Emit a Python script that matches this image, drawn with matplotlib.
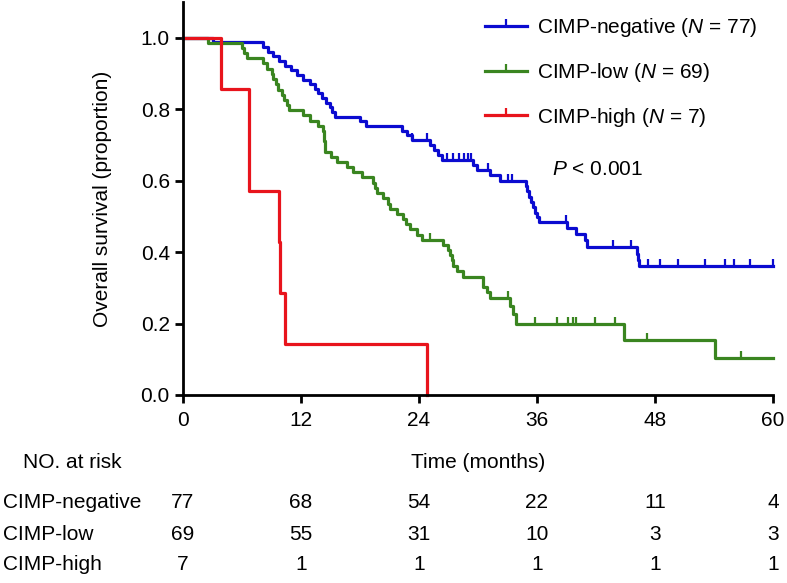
import matplotlib
matplotlib.use('Agg')
import matplotlib.pyplot as plt
import matplotlib.transforms as mtransforms
from matplotlib.lines import Line2D
import numpy as np

plt.rcParams['font.family'] = ['Liberation Sans', 'DejaVu Sans']
plt.rcParams['mathtext.fontset'] = 'custom'
plt.rcParams['mathtext.it'] = 'Liberation Sans:italic'
plt.rcParams['mathtext.rm'] = 'Liberation Sans'

# step curves: time (months) and survival after each step
neg_t = [0, 3.0, 8.1, 8.6, 9.2, 9.8, 10.4, 11.0, 11.6, 12.2, 12.9, 13.4, 13.7, 14.1, 14.5, 14.9,
         15.2, 15.5, 18.0, 18.6, 22.3, 22.8, 23.3, 25.1, 25.5, 25.9, 26.3, 29.5, 29.9, 31.2, 32.2,
         34.9, 35.0, 35.2, 35.4, 35.6, 35.8, 36.0, 36.2, 39.1, 40.0, 40.9, 41.1, 46.2, 46.3, 46.4, 60.0]
neg_s = [1.0, .987, .974, .961, .948, .935, .922, .909, .896, .883, .870, .857, .844, .831, .818, .805,
         .792, .779, .766, .753, .740, .727, .714, .700, .687, .673, .659, .645, .631, .616, .600,
         .585, .570, .555, .540, .525, .510, .497, .484, .468, .450, .433, .415, .394, .377, .360, .360]
neg_cens = [23.3, 24.8, 26.8, 27.5, 28.1, 28.6, 29.0, 29.3, 31.0, 33.1, 33.5, 38.9, 43.7, 45.6,
            47.3, 48.5, 50.3, 53.1, 55.1, 56.0, 57.7, 60.0]

low_t = [0, 2.5, 6.0, 6.2, 6.5, 8.1, 8.5, 9.1, 9.2, 9.5, 9.7, 10.1, 10.3, 10.6, 10.8, 12.2, 12.9,
         13.7, 14.2, 14.3, 14.35, 14.4, 14.45, 15.0, 15.7, 16.7, 17.3, 18.2, 19.3, 19.5, 19.7, 20.3,
         20.8, 21.1, 21.8, 22.4, 22.7, 23.1, 23.8, 24.3, 26.4, 26.9, 27.2, 27.35, 27.5, 27.9, 28.5,
         30.5, 30.9, 31.2, 33.3, 33.6, 33.9, 44.8, 54.1, 60.0]
low_s = [1.0, .986, .971, .957, .942, .928, .913, .899, .884, .870, .855, .841, .826, .812, .797, .783, .768,
         .754, .739, .725, .710, .696, .681, .667, .652, .638, .623, .609, .594, .580, .565, .551,
         .536, .522, .507, .493, .478, .464, .449, .435, .420, .406, .391, .377, .362, .346, .330,
         .303, .288, .272, .250, .227, .200, .154, .104, .104]
low_cens = [25.1, 33.1, 35.8, 38.0, 39.2, 39.7, 40.0, 41.9, 43.9, 47.2, 56.7]

high_t = [0, 3.9, 6.7, 9.8, 9.9, 10.4, 24.8]
high_s = [1.0, .857, .571, .429, .286, .143, 0.0]

groups = ['CIMP-negative', 'CIMP-low', 'CIMP-high']
group_n = [77, 69, 7]
risk_times = [0, 12, 24, 36, 48, 60]
risk_neg = [77, 68, 54, 22, 11, 4]
risk_low = [69, 55, 31, 10, 3, 3]
risk_high = [7, 1, 1, 1, 1, 1]

colors = ['#0b0bd0', '#3a8520', '#e8141c']
FS = 15

W, H = 787, 583
fig = plt.figure(figsize=(W / 100, H / 100), dpi=100)
ax = fig.add_axes([183 / W, 1 - 395 / H, 590 / W, 393 / H])


def surv_at(ts, ss, x):
    i = np.searchsorted(ts, x, side='right') - 1
    return np.array(ss)[i]


curves = [(neg_t, neg_s, neg_cens), (low_t, low_s, low_cens), (high_t, high_s, [])]
handles = []
for (ts, ss, cens), col in zip(curves, colors):
    ax.step(ts, ss, where='post', color=col, lw=2.3, clip_on=False)
    if cens:
        ax.plot(cens, surv_at(ts, ss, cens), ls='none', marker=2, ms=5, mew=1.6, color=col,
                clip_on=False)
    handles.append(Line2D([], [], color=col, lw=2.3, marker=2, ms=5, mew=1.6))

labels = [f'{g} ($\\mathit{{N}}$ = {n})' for g, n in zip(groups, group_n)]
ax.legend(handles, labels, loc='upper left', bbox_to_anchor=(485 / W, 1 - 16 / H),
          bbox_transform=fig.transFigure, frameon=False, fontsize=FS, borderpad=0,
          borderaxespad=0, handlelength=2.0, handletextpad=0.5, labelspacing=1.05, numpoints=1)
ax.text(37.5, 0.63, '$\\mathit{P}$ < 0.001', fontsize=FS, ha='left', va='center')

ax.set_xlim(0, 60)
ax.set_ylim(0, 1.1)
ax.set_xticks(risk_times)
ax.set_yticks([0, 0.2, 0.4, 0.6, 0.8, 1.0])
ax.set_yticklabels(['0.0', '0.2', '0.4', '0.6', '0.8', '1.0'])
ax.spines['top'].set_visible(False)
ax.spines['right'].set_visible(False)
for s in ['left', 'bottom']:
    ax.spines[s].set_linewidth(2)
ax.tick_params(width=2, length=5.5, labelsize=FS, pad=4)
ax.tick_params(axis='x', pad=6)
ax.set_ylabel('Overall survival (proportion)', fontsize=FS)
ax.yaxis.set_label_coords(-0.12, 0.5)

# risk table
tr = mtransforms.blended_transform_factory(ax.transData, fig.transFigure)
fig.text((183 + 773) / 2 / W, 1 - 463 / H, 'Time (months)', ha='center', va='center', fontsize=FS)
fig.text(23 / W, 1 - 463 / H, 'NO. at risk', ha='left', va='center', fontsize=FS)
for row, (name, vals) in enumerate(zip(groups, [risk_neg, risk_low, risk_high])):
    yy = 1 - (503 + row * 31) / H
    fig.text(3 / W, yy, name, ha='left', va='center', fontsize=FS)
    for t, v in zip(risk_times, vals):
        ax.text(t, yy, str(v), transform=tr, ha='center', va='center', fontsize=FS)

fig.savefig('out.png', dpi=100)
